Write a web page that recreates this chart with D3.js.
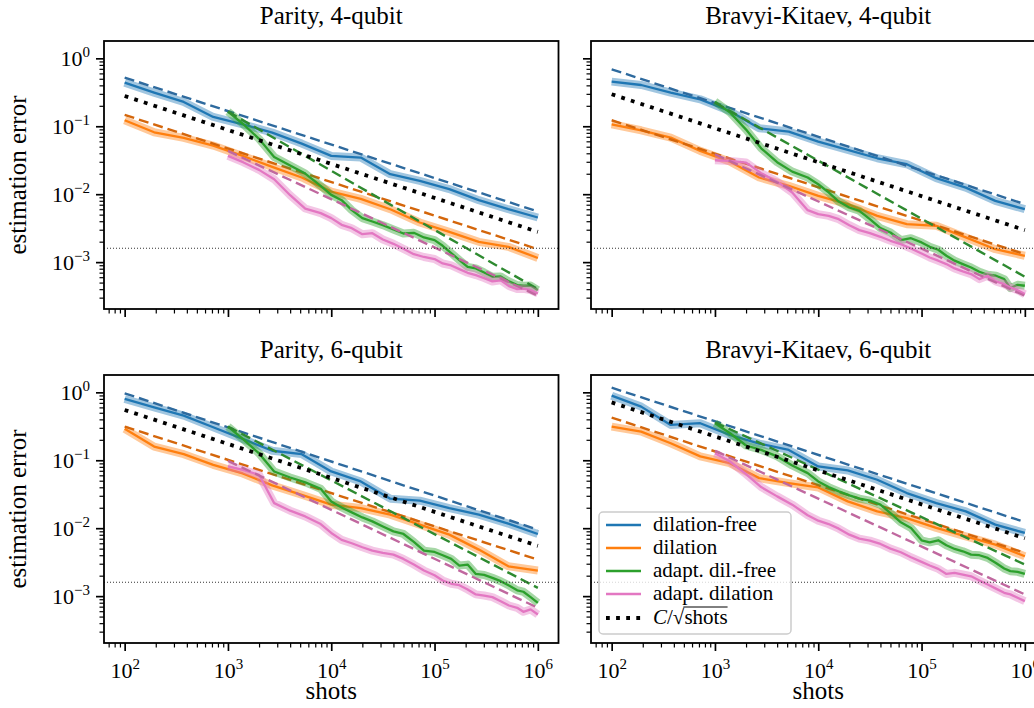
<!DOCTYPE html>
<html>
<head>
<meta charset="utf-8">
<script src="https://d3js.org/d3.v7.min.js"></script>
<style>
body { margin: 0; background: #fff; overflow: hidden; }
text { font-family: "Liberation Serif", "DejaVu Serif", serif; fill: #000; }
.tick text { font-size: 22px; }
</style>
</head>
<body>
<svg id="fig" width="1034" height="708"></svg>
<script>
// shots grid of the plain estimators and of the adaptive ones
var shots = [100, 193, 373, 720, 1389, 2683, 5179, 10000, 19307, 37276, 71969, 138950, 268270, 517947, 1000000];
var adaptShots = [1000, 1400, 2000, 2800, 4000, 5600, 7900, 10000, 12600, 15800, 20000, 25000, 31600, 40000,
  50000, 63000, 79000, 100000, 120000, 145000, 174000, 209000, 251000, 302000, 363000, 437000, 525000,
  631000, 724000, 851000, 1000000];

var panelTitles = ["Parity, 4-qubit", "Bravyi-Kitaev, 4-qubit", "Parity, 6-qubit", "Bravyi-Kitaev, 6-qubit"];
var methodNames = ["dilation-free", "dilation", "adapt. dil.-free", "adapt. dilation"];
var thresholdErr = 1.6e-3;

// Parity, 4-qubit
var p4Free = [0.439, 0.313, 0.228, 0.137, 0.107, 0.0807, 0.0556, 0.0366, 0.0346, 0.0197, 0.0157, 0.0119, 0.00817, 0.00601, 0.00454];
var p4Dil = [0.1226, 0.0816, 0.0673, 0.0520, 0.0366, 0.0252, 0.0176, 0.0109, 0.00853, 0.00601, 0.00383, 0.00279, 0.00199, 0.00168, 0.00115];
var p4AdFree = [0.164, 0.108, 0.0652, 0.0354, 0.0264, 0.0201, 0.0133, 0.00977, 0.00817, 0.00582, 0.00444, 0.00396, 0.00350,
  0.00302, 0.00264, 0.00270, 0.00231, 0.00211, 0.00174, 0.00136, 0.00107, 0.000853, 0.000807, 0.000705, 0.000608,
  0.000615, 0.000520, 0.000459, 0.000449, 0.000452, 0.000387];
var p4AdDil = [0.0366, 0.0296, 0.0228, 0.0166, 0.00966, 0.00615, 0.00526, 0.00444, 0.00354, 0.00316, 0.00258, 0.00267, 0.00215,
  0.00186, 0.00157, 0.00131, 0.00119, 0.00111, 0.000955, 0.000893, 0.000789, 0.000697, 0.000644, 0.000582, 0.000520,
  0.000540, 0.000444, 0.000401, 0.000406, 0.000387, 0.000346];
var p4Fits = [[0.52, 0.00556], [0.147, 0.00155], [0.164, 0.000401], [0.0434, 0.00032]];
var p4Sqrt = [0.279, 0.00279];

// Bravyi-Kitaev, 4-qubit
var bk4Free = [0.454, 0.405, 0.313, 0.249, 0.168, 0.0935, 0.0835, 0.0595, 0.0449, 0.0338, 0.0276, 0.0172, 0.0125, 0.00798, 0.00601];
var bk4Dil = [0.107, 0.0873, 0.0681, 0.0434, 0.0302, 0.0176, 0.0133, 0.00945, 0.00713, 0.00480, 0.00362, 0.00342, 0.00231, 0.00155, 0.00124];
var bk4AdFree = [0.231, 0.159, 0.0893, 0.0474, 0.0296, 0.0215, 0.0176, 0.0140, 0.0106, 0.00780, 0.00637, 0.00569, 0.00429,
  0.00316, 0.00273, 0.00211, 0.00225, 0.00195, 0.00168, 0.00152, 0.00124, 0.00105, 0.000935, 0.000835, 0.000721,
  0.000652, 0.000630, 0.000562, 0.000415, 0.000464, 0.000449];
var bk4AdDil = [0.0316, 0.0309, 0.0292, 0.0204, 0.0153, 0.0106, 0.00582, 0.00508, 0.00480, 0.00429, 0.00350, 0.00296, 0.00267,
  0.00236, 0.00206, 0.00184, 0.00159, 0.00134, 0.00117, 0.00105, 0.000935, 0.000807, 0.000729, 0.000667, 0.000562,
  0.000630, 0.000520, 0.000474, 0.000424, 0.000387, 0.000338];
var bk4Fits = [[0.689, 0.00713], [0.1226, 0.00131], [0.223, 0.000608], [0.0387, 0.00032]];
var bk4Sqrt = [0.296, 0.00296];

// Parity, 6-qubit
var p6Free = [0.798, 0.602, 0.454, 0.306, 0.206, 0.138, 0.123, 0.0684, 0.0488, 0.0272, 0.0254, 0.0198, 0.0158, 0.0117, 0.00822];
var p6Dil = [0.290, 0.159, 0.123, 0.0857, 0.0639, 0.0426, 0.0310, 0.0222, 0.0198, 0.0158, 0.0113, 0.00804, 0.00484, 0.00275, 0.00238];
var p6AdFree = [0.313, 0.204, 0.126, 0.0684, 0.0558, 0.0472, 0.0381, 0.0248, 0.0202, 0.0171, 0.0144, 0.0126, 0.0106,
  0.00899, 0.00822, 0.00627, 0.00468, 0.00447, 0.00400, 0.00353, 0.00282, 0.00291, 0.00212, 0.00205, 0.00186,
  0.00166, 0.00143, 0.00122, 0.00116, 0.000966, 0.000798];
var p6AdDil = [0.0810, 0.0724, 0.0611, 0.0234, 0.0181, 0.0149, 0.0115, 0.00851, 0.00672, 0.00600, 0.00524, 0.00468, 0.00433,
  0.00408, 0.00353, 0.00291, 0.00238, 0.00203, 0.00170, 0.00152, 0.00145, 0.00125, 0.00106, 0.00102, 0.000966,
  0.000843, 0.000728, 0.000673, 0.000588, 0.000637, 0.000537];
var p6Fits = [[0.967, 0.00951], [0.313, 0.00345], [0.313, 0.00132], [0.0982, 0.000673]];
var p6Sqrt = [0.55, 0.0055];

// Bravyi-Kitaev, 6-qubit
var bk6Free = [0.893, 0.616, 0.331, 0.351, 0.236, 0.176, 0.142, 0.0810, 0.0708, 0.0516, 0.0329, 0.0234, 0.0177, 0.0113, 0.00851];
var bk6Dil = [0.313, 0.264, 0.178, 0.114, 0.0906, 0.0546, 0.0461, 0.0398, 0.0248, 0.0177, 0.0141, 0.0101, 0.00760, 0.00573, 0.00386];
var bk6AdFree = [0.351, 0.250, 0.165, 0.142, 0.114, 0.0838, 0.0647, 0.0488, 0.0403, 0.0348, 0.0304, 0.0272, 0.0254,
  0.0222, 0.0167, 0.0122, 0.0101, 0.00664, 0.00620, 0.00664, 0.00560, 0.00495, 0.00457, 0.00408, 0.00400,
  0.00365, 0.00308, 0.00255, 0.00233, 0.00228, 0.00212];
var bk6AdDil = [0.127, 0.0959, 0.0625, 0.0403, 0.0294, 0.0222, 0.0155, 0.0129, 0.0115, 0.00984, 0.00804, 0.00702, 0.00656,
  0.00586, 0.00500, 0.00443, 0.00373, 0.00319, 0.00282, 0.00252, 0.00212, 0.00220, 0.00208, 0.00196, 0.00170,
  0.00148, 0.00129, 0.00112, 0.00106, 0.000944, 0.000843];
var bk6Fits = [[1.17, 0.0123], [0.425, 0.00433], [0.362, 0.00292], [0.138, 0.00106]];
var bk6Sqrt = [0.71, 0.0071];

var lineColors = ["#1f77b4", "#ff7f0e", "#2ca02c", "#e377c2"];
var fitColors = ["#2e6a9e", "#d4660b", "#2e8a30", "#c0689f"];

var svg = d3.select("#fig"),
W = 454.5,
H = 268;

var panels = [
  { title: panelTitles[0], series: [p4Free, p4Dil, p4AdFree, p4AdDil], fits: p4Fits, sqrtLine: p4Sqrt, left: 104, top: 41, xlab: false, ylab: true },
  { title: panelTitles[1], series: [bk4Free, bk4Dil, bk4AdFree, bk4AdDil], fits: bk4Fits, sqrtLine: bk4Sqrt, left: 591, top: 41, xlab: false, ylab: false },
  { title: panelTitles[2], series: [p6Free, p6Dil, p6AdFree, p6AdDil], fits: p6Fits, sqrtLine: p6Sqrt, left: 104, top: 375, xlab: true, ylab: true },
  { title: panelTitles[3], series: [bk6Free, bk6Dil, bk6AdFree, bk6AdDil], fits: bk6Fits, sqrtLine: bk6Sqrt, left: 591, top: 375, xlab: true, ylab: false, legend: true }
];

var x = d3.scaleLog().domain([Math.pow(10, 1.8), Math.pow(10, 6.2)]).range([0, W]);
var y = d3.scaleLog().domain([Math.pow(10, -3.69), Math.pow(10, 0.255)]).range([H, 0]);

var line = d3.line()
.x(function(d) { return x(d[0]); })
.y(function(d) { return y(d[1]); });

// minor ticks for the log axes
var xMinor = [], yMinor = [];
for (var k = 1; k <= 6; k++) {
  for (var m = 2; m <= 9; m++) {
    var v = m * Math.pow(10, k);
    if (v > x.domain()[0] && v < x.domain()[1]) xMinor.push(v);
  }
}
for (var k = -4; k <= 0; k++) {
  for (var m = 2; m <= 9; m++) {
    var v = m * Math.pow(10, k);
    if (v > y.domain()[0] && v < y.domain()[1]) yMinor.push(v);
  }
}

function powLabel(t, e) {
  t.text(null);
  t.append("tspan").text("10");
  t.append("tspan").attr("dy", -9).attr("font-size", 15)
  .text(e < 0 ? "\u2212" + (-e) : String(e));
}

function drawPanel(p) {
  var g = svg.append("g").attr("transform", "translate(" + p.left + "," + p.top + ")");

  // titre
  g.append("text")
  .attr("x", W / 2).attr("y", -17)
  .attr("text-anchor", "middle")
  .style("font-size", "25px")
  .text(p.title);

  var plot = g.append("g");

  p.series.forEach(function(s, i) {
    var xs = i < 2 ? shots : adaptShots;
    var pts = xs.map(function(v, j) { return [v, s[j]]; });

    // bande d'incertitude
    plot.append("path")
    .attr("d", line(pts))
    .attr("fill", "none")
    .attr("stroke", lineColors[i])
    .attr("stroke-opacity", 0.42)
    .attr("stroke-width", 8)
    .attr("stroke-linejoin", "round");

    plot.append("path")
    .attr("d", line(pts))
    .attr("fill", "none")
    .attr("stroke", lineColors[i])
    .attr("stroke-width", 2.3)
    .attr("stroke-linejoin", "round");

    // droite ajustée
    var f = p.fits[i];
    plot.append("path")
    .attr("d", line([[xs[0], f[0]], [xs[xs.length - 1], f[1]]]))
    .attr("fill", "none")
    .attr("stroke", fitColors[i])
    .attr("stroke-width", 2.4)
    .attr("stroke-dasharray", "10,5");
  });

  // C / sqrt(shots)
  plot.append("path")
  .attr("d", line([[shots[0], p.sqrtLine[0]], [shots[shots.length - 1], p.sqrtLine[1]]]))
  .attr("fill", "none")
  .attr("stroke", "#000")
  .attr("stroke-width", 3.8)
  .attr("stroke-dasharray", "3.8,6.3");

  plot.append("line")
  .attr("x1", 0).attr("x2", W)
  .attr("y1", y(thresholdErr)).attr("y2", y(thresholdErr))
  .attr("stroke", "#333")
  .attr("stroke-width", 1)
  .attr("stroke-dasharray", "1,2");

  // axes
  var xAxis = g.append("g").attr("transform", "translate(0," + H + ")")
  .call(d3.axisBottom(x).tickValues([1e2, 1e3, 1e4, 1e5, 1e6]).tickSize(8).tickPadding(4)
  .tickFormat(function(d) { return p.xlab ? "lbl" : ""; }));
  g.append("g").attr("transform", "translate(0," + H + ")")
  .call(d3.axisBottom(x).tickValues(xMinor).tickSize(4.5).tickFormat(""))
  .call(function(a) { a.select(".domain").remove(); a.selectAll("line").attr("stroke-width", 1.2); });

  var yAxis = g.append("g")
  .call(d3.axisLeft(y).tickValues([1e-3, 1e-2, 1e-1, 1]).tickSize(8).tickPadding(6)
  .tickFormat(function(d) { return p.ylab ? "lbl" : ""; }));
  g.append("g")
  .call(d3.axisLeft(y).tickValues(yMinor).tickSize(4.5).tickFormat(""))
  .call(function(a) { a.select(".domain").remove(); a.selectAll("line").attr("stroke-width", 1.2); });

  [xAxis, yAxis].forEach(function(a) {
    a.attr("font-family", null).attr("font-size", null);
    a.select(".domain").remove();
    a.selectAll("line").attr("stroke-width", 1.7);
  });

  if (p.xlab) {
    xAxis.selectAll(".tick text").each(function(d) {
      var t = d3.select(this).attr("y", 35).attr("dy", null);
      powLabel(t, Math.round(Math.log10(d)));
    });
    g.append("text")
    .attr("x", W / 2).attr("y", H + 56)
    .attr("text-anchor", "middle")
    .style("font-size", "25px")
    .text("shots");
  }
  if (p.ylab) {
    yAxis.selectAll(".tick text").each(function(d) {
      var t = d3.select(this).attr("x", -14).attr("y", 7).attr("dy", null);
      powLabel(t, Math.round(Math.log10(d)));
    });
    g.append("text")
    .attr("transform", "translate(" + (26 - p.left) + "," + (H / 2) + ") rotate(-90)")
    .attr("text-anchor", "middle")
    .style("font-size", "25px")
    .text("estimation error");
  }

  if (p.legend) drawLegend(g);

  g.append("rect")
  .attr("width", W).attr("height", H)
  .attr("fill", "none")
  .attr("stroke", "#000")
  .attr("stroke-width", 1.8);
}

function drawLegend(g) {
  var lg = g.append("g").attr("transform", "translate(8,137)");
  lg.append("rect")
  .attr("width", 192).attr("height", 122)
  .attr("rx", 4)
  .attr("fill", "#fff").attr("fill-opacity", 0.8)
  .attr("stroke", "#ccc").attr("stroke-width", 1.5);

  var rows = [13, 36, 59, 82, 106];
  methodNames.forEach(function(name, i) {
    lg.append("line")
    .attr("x1", 7).attr("x2", 42)
    .attr("y1", rows[i]).attr("y2", rows[i])
    .attr("stroke", lineColors[i]).attr("stroke-width", 2.5);
    lg.append("text")
    .attr("x", 54).attr("y", rows[i] + 6)
    .style("font-size", "21px")
    .text(name);
  });

  var r = rows[4];
  lg.append("line")
  .attr("x1", 7).attr("x2", 42)
  .attr("y1", r).attr("y2", r)
  .attr("stroke", "#000").attr("stroke-width", 3.8)
  .attr("stroke-dasharray", "3.8,6.3");

  var t = lg.append("text").attr("x", 54).attr("y", r + 6).style("font-size", "21px");
  t.append("tspan").style("font-style", "italic").text("C");
  t.append("tspan").text("/\u221a");
  t.append("tspan").text("shots");
  var node = t.node();
  var before = node.getSubStringLength(0, 3);
  var len = node.getSubStringLength(3, 5);
  lg.append("line")
  .attr("x1", 54 + before - 1).attr("x2", 54 + before + len)
  .attr("y1", r - 11).attr("y2", r - 11)
  .attr("stroke", "#000").attr("stroke-width", 1);
}

panels.forEach(drawPanel);
</script>
</body>
</html>
